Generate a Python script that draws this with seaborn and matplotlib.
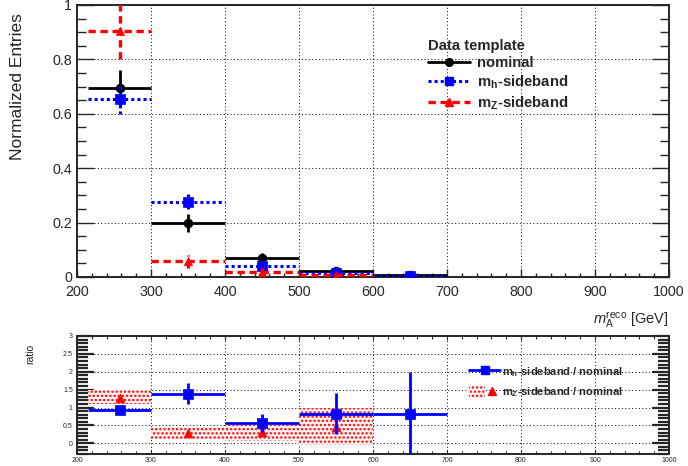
import numpy as np
import seaborn as sns
import matplotlib
matplotlib.use("Agg")
from matplotlib import pyplot as plt
from matplotlib.lines import Line2D
from matplotlib.patches import Patch
from matplotlib.legend_handler import HandlerTuple
from matplotlib.ticker import MultipleLocator

# bins of m_A^reco [GeV]
bin_lo = np.array([215, 300, 400, 500, 600])
bin_hi = np.array([300, 400, 500, 600, 700])

# normalized templates
nominal = np.array([0.694, 0.198, 0.071, 0.022, 0.006])
nominal_err = np.array([0.066, 0.034, 0.018, 0.004, 0.002])
mh_side = np.array([0.653, 0.277, 0.041, 0.016, 0.005])
mh_side_err = np.array([0.055, 0.027, 0.008, 0.004, 0.003])
mz_side = np.array([0.905, 0.057, 0.020, 0.007, np.nan])
mz_side_err = np.array([0.105, 0.025, 0.012, 0.006, np.nan])

# ratios to nominal
ratio_mh = np.array([0.93, 1.39, 0.56, 0.83, 0.83])
ratio_mh_err = np.array([0.07, 0.30, 0.25, 0.57, 1.16])
ratio_mz = np.array([1.27, 0.30, 0.32, 0.46, np.nan])
ratio_mz_lo = np.array([1.11, 0.12, 0.06, -0.06, np.nan])
ratio_mz_hi = np.array([1.48, 0.46, 0.51, 1.00, np.nan])

centers = (bin_lo + bin_hi) / 2

sns.set_style("ticks")
plt.rcParams["font.family"] = ["Liberation Sans", "DejaVu Sans"]
plt.rcParams["mathtext.fontset"] = "custom"
plt.rcParams["mathtext.rm"] = "Liberation Sans"
plt.rcParams["mathtext.it"] = "Liberation Sans:italic"
plt.rcParams["mathtext.bf"] = "Liberation Sans:bold"
plt.rcParams["hatch.linewidth"] = 1.1

fig = plt.figure(figsize=(6.88, 4.66), dpi=100)
ax = fig.add_axes([77 / 688, 1 - 277 / 466, 592 / 688, 272 / 466])
rax = fig.add_axes([77 / 688, 1 - 454 / 466, 592 / 688, 118 / 466])

BLACK = "black"
BLUE = "#0000ff"
RED = "#ff0000"
BAND = "#fff0f0"
styles = [
    (nominal, nominal_err, BLACK, "solid", 2.0, "o", 40),
    (mh_side, mh_side_err, BLUE, (0, (1, 1)), 2.2, "s", 45),
    (mz_side, mz_side_err, RED, (0, (2.2, 1.4)), 2.4, "^", 35),
]
for z, (vals, errs, col, ls, lw, mk, sz) in enumerate(styles):
    ok = ~np.isnan(vals)
    ax.hlines(vals[ok], bin_lo[ok], bin_hi[ok], colors=col, linestyles=ls,
              linewidth=lw, zorder=3 + z)
    ax.vlines(centers[ok], (vals - errs)[ok], (vals + errs)[ok], colors=col,
              linestyles=ls, linewidth=lw, zorder=3 + z)
    sns.scatterplot(x=centers[ok], y=vals[ok], marker=mk, s=sz, color=col,
                    edgecolor=col, linewidth=0.5, ax=ax, zorder=3.5 + z)

ax.set_xlim(200, 1000)
ax.set_ylim(0, 1)
ax.xaxis.set_major_locator(MultipleLocator(100))
ax.xaxis.set_minor_locator(MultipleLocator(20))
ax.yaxis.set_major_locator(MultipleLocator(0.2))
ax.yaxis.set_minor_locator(MultipleLocator(0.05))
ax.set_yticks([0, 0.2, 0.4, 0.6, 0.8, 1.0], ["0", "0.2", "0.4", "0.6", "0.8", "1"])
ax.tick_params(axis="both", which="both", direction="in", right=True,
               labelsize=10.3, width=1.0)
ax.tick_params(axis="y", which="major", length=12)
ax.tick_params(axis="y", which="minor", length=6.5)
ax.tick_params(axis="x", which="major", length=6, pad=6)
ax.tick_params(axis="x", which="minor", length=3)
ax.grid(True, which="major", color="black", linestyle=(0, (1, 2.5)), linewidth=0.7)
for sp in ax.spines.values():
    sp.set_linewidth(1.4)

ax.set_ylabel("Normalized Entries", fontsize=12.5, ha="right", va="center")
ax.yaxis.set_label_coords(-0.1, 0.97)
ax.set_xlabel(r"$m_{\mathrm{A}}^{\mathrm{reco}}$ [GeV]", fontsize=10.5, ha="right", va="top")
ax.xaxis.set_label_coords(1.0, -0.12)

handles = [
    Line2D([], [], color=BLACK, lw=2.0, marker="o", ms=5.5),
    Line2D([], [], color=BLUE, lw=2.2, ls=(0, (1, 1)), marker="s", ms=6),
    Line2D([], [], color=RED, lw=2.4, ls=(0, (2.2, 1.4)), marker="^", ms=6),
]
labels = ["nominal", r"$\mathbf{m_h}$-sideband", r"$\mathbf{m_Z}$-sideband"]
ax.legend(handles, labels, title="Data template", loc="upper left",
          bbox_to_anchor=(428 / 688, 1 - 39 / 466), bbox_transform=fig.transFigure,
          frameon=False, borderpad=0, borderaxespad=0, handlelength=2.8,
          handletextpad=0.5, labelspacing=0.22, alignment="left",
          prop={"weight": "bold", "size": 10.7},
          title_fontproperties={"weight": "bold", "size": 10.7})

# ratio panel
ok = ~np.isnan(ratio_mz)
rax.bar(centers[ok], (ratio_mz_hi - ratio_mz_lo)[ok], bottom=ratio_mz_lo[ok],
        width=(bin_hi - bin_lo)[ok], facecolor=BAND, edgecolor=RED,
        hatch="....", linewidth=0, zorder=2)
sns.scatterplot(x=centers[ok], y=ratio_mz[ok], marker="^", s=40, color=RED,
                edgecolor=RED, linewidth=0.5, ax=rax, zorder=4)
rax.hlines(ratio_mh, bin_lo, bin_hi, colors=BLUE, linewidth=2.0, zorder=5)
rax.vlines(centers, ratio_mh - ratio_mh_err, ratio_mh + ratio_mh_err, colors=BLUE,
           linewidth=2.0, zorder=5)
sns.scatterplot(x=centers, y=ratio_mh, marker="s", s=55, color=BLUE,
                edgecolor=BLUE, linewidth=0.5, ax=rax, zorder=6)

rax.set_xlim(200, 1000)
rax.set_ylim(-0.3, 3.0)
rax.xaxis.set_major_locator(MultipleLocator(100))
rax.xaxis.set_minor_locator(MultipleLocator(20))
rax.yaxis.set_major_locator(MultipleLocator(0.5))
rax.yaxis.set_minor_locator(MultipleLocator(0.1))
rax.set_yticks([0, 0.5, 1, 1.5, 2, 2.5, 3], ["0", "0.5", "1", "1.5", "2", "2.5", "3"])
rax.tick_params(axis="both", which="both", direction="in", right=True, top=True,
                labelsize=5, width=1.6)
rax.tick_params(axis="y", which="major", length=12, pad=3)
rax.tick_params(axis="y", which="minor", length=8)
rax.tick_params(axis="x", which="major", length=3, width=0.8, pad=2)
rax.tick_params(axis="x", which="minor", length=2, width=0.8)
rax.grid(True, which="major", color="black", linestyle=(0, (1, 2.5)), linewidth=0.7)
for sp in rax.spines.values():
    sp.set_linewidth(1.4)
rax.set_xlabel("")
rax.set_ylabel("ratio", fontsize=7.5, ha="right", va="center")
rax.yaxis.set_label_coords(-0.079, 0.93)

rhandles = [
    Line2D([], [], color=BLUE, lw=2.0, marker="s", ms=6),
    (Patch(facecolor=BAND, edgecolor=RED, hatch="....", linewidth=0),
     Line2D([], [], color=RED, lw=0, marker="^", ms=5.5)),
]
rlabels = [r"$\mathbf{m_h}$-sideband / nominal", r"$\mathbf{m_Z}$-sideband / nominal"]
rax.legend(rhandles, rlabels, loc="upper left",
           bbox_to_anchor=(469 / 688, 1 - 365 / 466), bbox_transform=fig.transFigure,
           frameon=False, borderpad=0, borderaxespad=0, handlelength=2.8,
           handleheight=1.4, handletextpad=0.2, labelspacing=0.6,
           handler_map={tuple: HandlerTuple(ndivide=None, pad=0)},
           prop={"weight": "bold", "size": 8})

fig.savefig("out.png", dpi=100)
